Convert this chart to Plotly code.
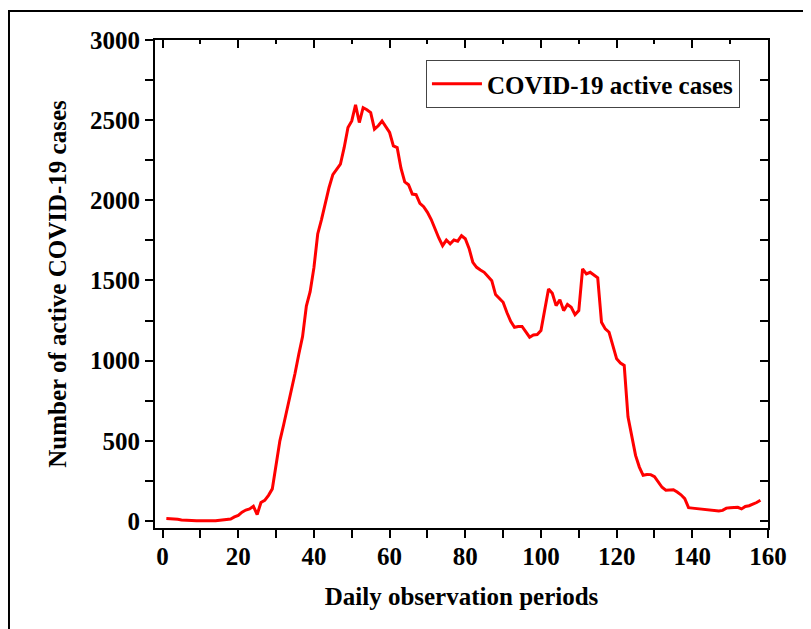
import plotly.graph_objects as go

days = list(range(1, 159))
active_cases = [
    15, 14, 12, 10, 6, 4, 3, 3, 2, 1,
    0, 0, 1, 2, 4, 5, 8, 12, 25, 35,
    55, 68, 75, 92, 40, 115, 128, 160, 200, 340,
    500, 600, 700, 810, 920, 1040, 1150, 1340, 1430, 1580,
    1790, 1880, 1990, 2080, 2160, 2190, 2225, 2330, 2454, 2495,
    2595, 2485, 2578, 2565, 2547, 2444, 2465, 2495, 2460, 2423,
    2340, 2329, 2200, 2115, 2097, 2039, 2035, 1981, 1960, 1925,
    1880, 1820, 1765, 1717, 1752, 1728, 1752, 1745, 1779, 1760,
    1700, 1613, 1582, 1565, 1551, 1525, 1499, 1412, 1390, 1364,
    1300, 1245, 1208, 1213, 1213, 1180, 1146, 1160, 1163, 1188,
    1320, 1447, 1420, 1343, 1379, 1312, 1350, 1333, 1287, 1312,
    1572, 1541, 1551, 1535, 1516, 1239, 1198, 1177, 1100, 1011,
    985, 970, 650, 530, 409, 336, 285, 290, 289, 276,
    240, 210, 192, 192, 195, 180, 163, 139, 83, 80,
    77, 74, 71, 70, 64, 62, 62, 66, 80, 83,
    84, 85, 75, 90, 95, 104, 115, 129,
]
series_name = "COVID-19 active cases"
x_title = "Daily observation periods"
y_title = "Number of active COVID-19 cases"

FONT = "Liberation Serif, Times New Roman, serif"
FS = 25

fig = go.Figure()
fig.add_trace(go.Scatter(
    x=days, y=active_cases, mode="lines", name=series_name,
    line=dict(color="#FF0000", width=3),
))
# empty helper trace so the mirrored top/right axes are drawn
fig.add_trace(go.Scatter(
    x=[None], y=[None], xaxis="x2", yaxis="y2", mode="lines",
    showlegend=False, hoverinfo="skip",
))

xr = [-2, 160]
yr = [-44, 3000]

tick_common = dict(tickwidth=1.5, tickcolor="black")

fig.update_layout(
    width=803, height=621,
    margin=dict(l=147, r=43, t=32, b=101, autoexpand=False),
    paper_bgcolor="white", plot_bgcolor="white",
    font=dict(family=FONT, size=FS, color="black", weight="bold"),
    showlegend=True,
    legend=dict(
        x=0.442, y=0.959, xanchor="left", yanchor="top",
        bgcolor="white", bordercolor="#444", borderwidth=1,
        font=dict(family=FONT, size=FS, color="black", weight="bold"),
        itemwidth=50, tracegroupgap=0,
    ),
    xaxis=dict(
        range=xr, tickmode="linear", tick0=0, dtick=20,
        ticks="outside", ticklen=8, **tick_common,
        showline=True, linecolor="black", linewidth=2,
        showgrid=False, zeroline=False, automargin=False,
        ticklabelstandoff=-3,
        minor=dict(ticks="outside", dtick=10, tick0=0, ticklen=8, showgrid=False, **tick_common),
        tickfont=dict(family=FONT, size=FS, color="black", weight="bold"),
        title=dict(text=x_title, standoff=18,
                   font=dict(family=FONT, size=FS, color="black", weight="bold")),
    ),
    yaxis=dict(
        range=yr, tickmode="linear", tick0=0, dtick=500,
        ticks="outside", ticklen=8, **tick_common,
        showline=True, linecolor="black", linewidth=2,
        showgrid=False, zeroline=False, automargin=False,
        minor=dict(ticks="outside", dtick=250, tick0=0, ticklen=8, showgrid=False, **tick_common),
        tickfont=dict(family=FONT, size=FS, color="black", weight="bold"),
        title=dict(text=y_title, standoff=16,
                   font=dict(family=FONT, size=FS, color="black", weight="bold")),
    ),
    xaxis2=dict(
        range=xr, overlaying="x", side="top", anchor="y",
        tickmode="linear", tick0=0, dtick=20,
        ticks="inside", ticklen=8, **tick_common,
        showline=True, linecolor="black", linewidth=2,
        showgrid=False, zeroline=False, showticklabels=False, automargin=False,
        minor=dict(ticks="inside", dtick=10, tick0=0, ticklen=4, showgrid=False, **tick_common),
    ),
    yaxis2=dict(
        range=yr, overlaying="y", side="right", anchor="x",
        tickmode="linear", tick0=0, dtick=500,
        ticks="inside", ticklen=8, **tick_common,
        showline=True, linecolor="black", linewidth=2,
        showgrid=False, zeroline=False, showticklabels=False, automargin=False,
        minor=dict(ticks="inside", dtick=250, tick0=0, ticklen=8, showgrid=False, **tick_common),
    ),
    shapes=[dict(
        type="rect", xref="paper", yref="paper",
        x0=-0.2382, x1=1.0604, y0=-0.30, y1=1.0594,
        line=dict(color="black", width=2), fillcolor="rgba(0,0,0,0)", layer="below",
    )],
)

fig.write_html("out.html")
